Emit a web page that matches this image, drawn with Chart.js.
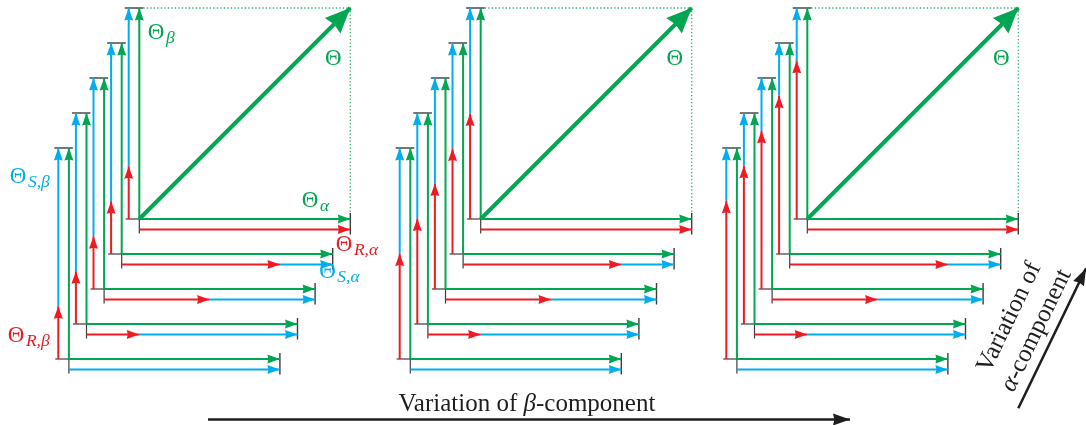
<!DOCTYPE html>
<html>
<head>
<meta charset="utf-8">
<script src="https://cdn.jsdelivr.net/npm/chart.js@4"></script>
<style>
  html, body { margin: 0; padding: 0; background: #fff; }
  #wrap { width: 1086px; height: 425px; }
</style>
</head>
<body>
<div id="wrap"><canvas id="c"></canvas></div>
<script>
// ---- component values ----
const levels = [0, 1, 2, 3, 4];                  // nested decompositions, outermost first
const realAlpha = [1.0, 0.75, 0.5, 0.25, 0.0];   // share of Θ_R,α in Θ_α at each level
const realBeta = [0.25, 0.5, 0.75];              // share of Θ_R,β in Θ_β in each panel
const thetaAlpha = 1.0;                          // |Θ_α|
const thetaBeta = 1.0;                           // |Θ_β|

// ---- layout (chart units = canvas pixels) ----
const UNIT = 211;                     // length of a full component
const PANEL_X = [139.3, 480.7, 807.3];
const BASE_Y = 219;
const STEP_X = 17.6, STEP_Y = 35;
const GAP = 10.6;

const GREEN = '#00a651', BLUE = '#00aeef', RED = '#ed1c24';
const TICK = '#3d3d3d', INK = '#1e1e1e', DOT = 'rgba(0,166,81,0.85)';
const SERIF = '"Liberation Serif", "DejaVu Serif", serif';
const ARROW = [12.5, 4.5];

function geom(p, k) {
  const ox = PANEL_X[p] - k * STEP_X, oy = BASE_Y + k * STEP_Y;
  return {
    ox, oy,
    vx: ox - GAP, hy: oy + GAP,
    topY: oy - UNIT * thetaBeta,
    endX: ox + UNIT * thetaAlpha,
    rb: oy - UNIT * thetaBeta * realBeta[p],
    ra: ox + UNIT * thetaAlpha * realAlpha[k]
  };
}

const marks = [];
function addLine(pts, color, opts = {}) {
  marks.push({
    data: pts.map(p => ({ x: p[0], y: p[1] })),
    showLine: true,
    borderColor: color,
    backgroundColor: color,
    borderWidth: opts.width ?? 2,
    borderDash: opts.dash ?? [],
    borderCapStyle: 'butt',
    pointRadius: 0,
    pointHoverRadius: 0,
    clip: false,
    arrow: opts.arrow ?? null
  });
}

PANEL_X.forEach((_, p) => {
  levels.forEach(k => {
    const g = geom(p, k);
    // small reference ticks
    addLine([[g.vx - 3, g.oy], [g.ox, g.oy]], TICK, { width: 1.2 });
    addLine([[g.ox, g.oy], [g.ox, g.hy + 4]], TICK, { width: 1.2 });
    addLine([[g.vx - 4, g.topY], [g.ox + 4, g.topY]], TICK, { width: 1.4 });
    addLine([[g.endX, g.oy - 6], [g.endX, g.hy + 5]], TICK, { width: 1.4 });
    if (k === 0) {
      addLine([[g.ox + 4, g.topY], [g.endX, g.topY], [g.endX, g.oy - 6]], DOT, { width: 1.3, dash: [1.3, 2.2] });
    }
    // β side
    addLine([[g.ox, g.oy], [g.ox, g.topY]], GREEN, { arrow: ARROW });
    if (realBeta[p] < 1) addLine([[g.vx, g.rb], [g.vx, g.topY]], BLUE, { arrow: ARROW });
    if (realBeta[p] > 0) addLine([[g.vx, g.oy], [g.vx, g.rb]], RED, { arrow: ARROW });
    // α side
    addLine([[g.ox, g.oy], [g.endX, g.oy]], GREEN, { arrow: ARROW });
    if (realAlpha[k] < 1) addLine([[g.ra, g.hy], [g.endX, g.hy]], BLUE, { arrow: ARROW });
    if (realAlpha[k] > 0) addLine([[g.ox, g.hy], [g.ra, g.hy]], RED, { arrow: ARROW });
    // resulting vector
    if (k === 0) addLine([[g.ox, g.oy], [g.endX, g.topY]], GREEN, { width: 4, arrow: [25, 11] });
  });
});

// direction arrows
addLine([[208, 419.5], [850, 419.5]], INK, { width: 2.5, arrow: [17, 6] });
addLine([[1018.3, 408.3], [1086, 268.3]], INK, { width: 2.5, arrow: [17, 6] });
const ALPHA_ARROW = marks.length - 1;

// first added is drawn first (underneath)
const datasets = marks.slice().reverse();

// ---- plugins ----
const arrowHeads = {
  id: 'arrowHeads',
  afterDatasetsDraw(chart) {
    const ctx = chart.ctx;
    for (let i = chart.data.datasets.length - 1; i >= 0; i--) {
      const ds = chart.data.datasets[i];
      if (!ds.arrow) continue;
      const pts = chart.getDatasetMeta(i).data;
      const a = pts[pts.length - 2], b = pts[pts.length - 1];
      const ang = Math.atan2(b.y - a.y, b.x - a.x);
      const [len, half] = ds.arrow;
      ctx.save();
      ctx.translate(b.x, b.y);
      ctx.rotate(ang);
      ctx.beginPath();
      ctx.moveTo(0, 0);
      ctx.lineTo(-len, -half);
      ctx.lineTo(-len * 0.92, 0);
      ctx.lineTo(-len, half);
      ctx.closePath();
      ctx.fillStyle = ds.borderColor;
      ctx.fill();
      ctx.restore();
    }
  }
};

function runsWidth(ctx, runs) {
  let w = 0;
  runs.forEach(r => { ctx.font = r.font; w += ctx.measureText(r.t).width + (r.dx || 0); });
  return w;
}
function drawRuns(ctx, runs, x, y) {
  runs.forEach(r => {
    ctx.font = r.font;
    x += (r.dx || 0);
    ctx.fillText(r.t, x, y + (r.dy || 0));
    x += ctx.measureText(r.t).width;
  });
}

const THETA_FONT = `23px ${SERIF}`;
const SUB_FONT = `italic 17.5px ${SERIF}`;
const TXT = `25px ${SERIF}`;
const TXT_IT = `italic 25px ${SERIF}`;

function symbol(color, x, y, sub) {
  return { color, x, y, sub };
}

const textLabels = {
  id: 'textLabels',
  afterDraw(chart) {
    const ctx = chart.ctx;
    const sx = v => chart.scales.x.getPixelForValue(v);
    const sy = v => chart.scales.y.getPixelForValue(v);
    ctx.save();
    ctx.textBaseline = 'alphabetic';
    ctx.textAlign = 'left';

    const g0 = geom(0, 0), g1 = geom(0, 1), g4 = geom(0, 4);
    const syms = [
      symbol(GREEN, g0.ox + 8.5, g0.topY + 30.5, 'β'),
      symbol(GREEN, g0.endX - 48.5, g0.oy - 12, 'α'),
      symbol(RED, g0.endX - 14.5, g0.oy + 32, 'R,α'),
      symbol(BLUE, g1.endX - 13.5, g1.hy + 13, 'S,α'),
      symbol(BLUE, g4.vx - 48.5, g4.topY + 35, 'S,β'),
      symbol(RED, g4.vx - 50.5, g4.oy - 17.5, 'R,β')
    ];
    syms.forEach(s => {
      ctx.fillStyle = s.color;
      drawRuns(ctx, [
        { t: 'Θ', font: THETA_FONT },
        { t: s.sub, font: SUB_FONT, dx: 1.5, dy: 4 }
      ], sx(s.x), sy(s.y));
    });

    // resulting vector label in each panel
    ctx.fillStyle = GREEN;
    ctx.font = THETA_FONT;
    ctx.textAlign = 'center';
    PANEL_X.forEach((_, p) => {
      const g = geom(p, 0);
      ctx.fillText('Θ', sx(g.endX - 17), sy(g.topY + 57));
    });
    ctx.textAlign = 'left';

    // β-variation caption
    ctx.fillStyle = INK;
    const capB = [
      { t: 'Variation of ', font: TXT },
      { t: 'β', font: TXT_IT },
      { t: '-component', font: TXT }
    ];
    drawRuns(ctx, capB, sx(527) - runsWidth(ctx, capB) / 2, sy(411));

    // α-variation caption, along its arrow
    const meta = chart.getDatasetMeta(datasets.length - 1 - ALPHA_ARROW).data;
    const p0 = meta[0], p1 = meta[1];
    const ang = Math.atan2(p1.y - p0.y, p1.x - p0.x);
    ctx.translate(p0.x, p0.y);
    ctx.rotate(ang);
    const l1 = [{ t: 'Variation of', font: TXT }];
    const l2 = [{ t: 'α', font: TXT_IT }, { t: '-component', font: TXT }];
    drawRuns(ctx, l1, 78 - runsWidth(ctx, l1) / 2, -41);
    drawRuns(ctx, l2, 78 - runsWidth(ctx, l2) / 2, -11);
    ctx.restore();
  }
};

new Chart(document.getElementById('c'), {
  type: 'scatter',
  data: { datasets },
  options: {
    responsive: true,
    maintainAspectRatio: false,
    animation: false,
    events: [],
    layout: { padding: 0 },
    scales: {
      x: { type: 'linear', min: 0, max: 1086, display: false },
      y: { type: 'linear', min: 0, max: 425, reverse: true, display: false }
    },
    elements: { line: { tension: 0 } },
    plugins: { legend: { display: false }, tooltip: { enabled: false } }
  },
  plugins: [arrowHeads, textLabels]
});
</script>
</body>
</html>
